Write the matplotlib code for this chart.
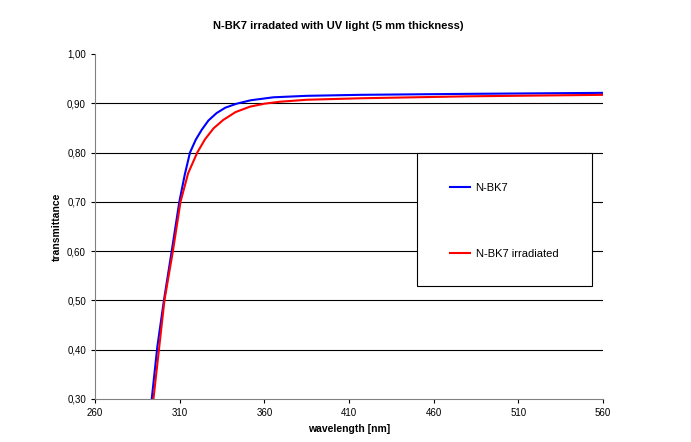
import matplotlib
matplotlib.use("Agg")
import matplotlib.pyplot as plt
from matplotlib.patches import Rectangle

wl_blue = [293.5, 296.8, 300.7, 305.3, 309.8, 313.0, 316.1, 319.5, 323.0, 327.0, 331.8, 337.0, 343.6, 352.0, 365.3, 385.0, 416.4, 480, 560]
tr_blue = [0.30, 0.406, 0.50, 0.60, 0.70, 0.755, 0.80, 0.826, 0.846, 0.865, 0.88, 0.891, 0.899, 0.906, 0.912, 0.915, 0.917, 0.919, 0.921]
wl_red = [294.5, 301.0, 306.0, 310.5, 315.0, 320.4, 325.0, 330.0, 335.7, 343.0, 351.5, 360.0, 369.2, 385.0, 416.4, 480, 560]
tr_red = [0.30, 0.50, 0.60, 0.70, 0.758, 0.80, 0.827, 0.849, 0.866, 0.882, 0.893, 0.899, 0.903, 0.907, 0.910, 0.914, 0.917]
xticks = [260, 310, 360, 410, 460, 510, 560]
yticks = [0.30, 0.40, 0.50, 0.60, 0.70, 0.80, 0.90, 1.00]

plt.rcParams['font.family'] = ['Liberation Sans', 'DejaVu Sans']
fig = plt.figure(figsize=(6.91, 4.42), dpi=100)
ax = fig.add_axes([0.1375, 0.0973, 0.7351, 0.7807])
ax.plot(wl_blue, tr_blue, color='#0000ff', lw=1.5, label='N-BK7')
ax.plot(wl_red, tr_red, color='#ff0000', lw=1.5, label='N-BK7 irradiated')
ax.set_xlim(260, 560)
ax.set_ylim(0.30, 1.00)
ax.set_xticks(xticks)
ax.set_yticks(yticks)
ax.set_yticklabels([f"{v:.2f}".replace('.', ',') for v in yticks])
ax.tick_params(labelsize=7, length=3)
for y in yticks[1:-1]:
    ax.axhline(y, color='black', lw=0.8, zorder=0)
for s in ['top', 'right']:
    ax.spines[s].set_visible(False)
ax.spines['left'].set_color('#808080')
ax.spines['bottom'].set_color('#808080')
ax.set_xlabel('wavelength [nm]', fontsize=7.5, fontweight='bold')
ax.set_ylabel('transmittance', fontsize=7.5, fontweight='bold')
fig.text(0.49, 0.935, 'N-BK7 irradated with UV light (5 mm thickness)', ha='center',
         fontsize=8, fontweight='bold')
ax.add_patch(Rectangle((0.634, 0.328), 0.344, 0.385, transform=ax.transAxes,
                       facecolor='white', edgecolor='black', lw=0.8, zorder=3))
leg = ax.legend(loc='upper left', bbox_to_anchor=(0.688, 0.642), fontsize=8,
                frameon=False, labelspacing=5.0, handlelength=1.8, handletextpad=0.5,
                borderpad=0)
leg.set_zorder(4)
fig.savefig('out.png', dpi=100)
